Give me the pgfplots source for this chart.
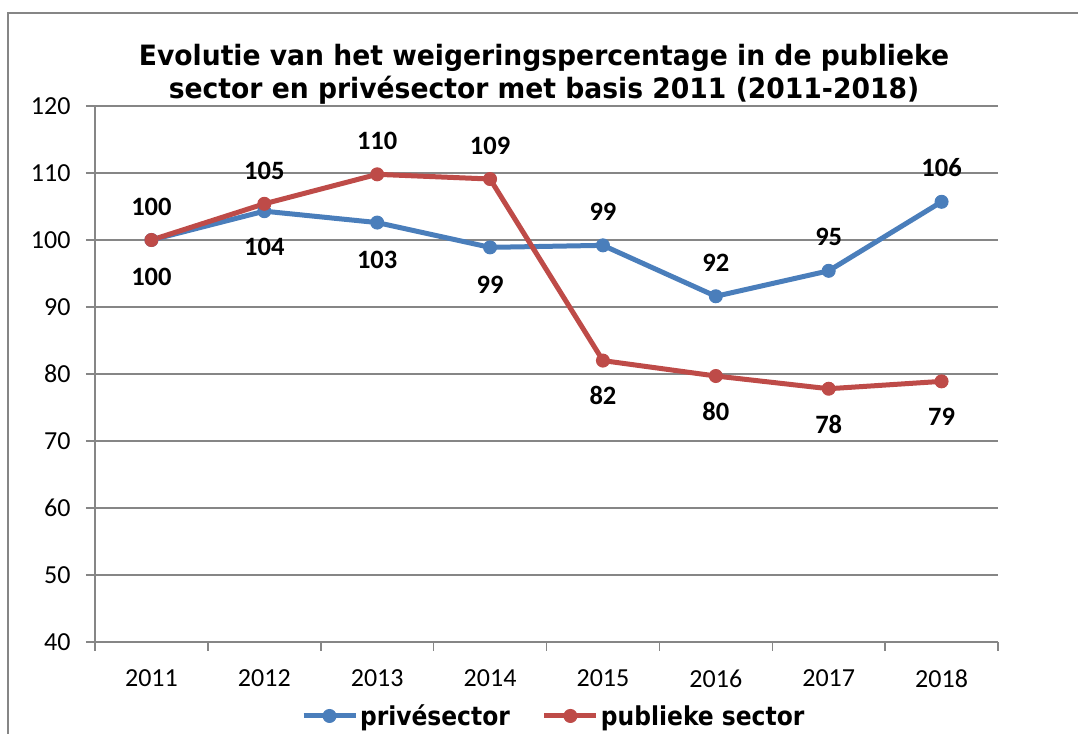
\documentclass[border=0pt]{standalone}
\usepackage{pgfplots}
\usepackage{pgfplotstable}
\pgfplotsset{compat=1.18}
\usepackage{fontspec}
\setmainfont{Carlito}
\newfontfamily\titlefont[FakeStretch=0.95]{DejaVu Sans}
\newfontfamily\legfont[FakeStretch=0.9]{DejaVu Sans}
\definecolor{blueS}{RGB}{74,126,187}
\definecolor{redS}{RGB}{190,75,72}
\definecolor{gridg}{RGB}{134,134,134}

\pgfplotstableread{
x y pos
0 100 -37
1 104.3 -36
2 102.6 -37
3 98.9 -37
4 99.2 34
5 91.6 33
6 95.4 34
7 105.7 34
}\prive

\pgfplotstableread{
x y pos
0 100 33
1 105.4 33
2 109.8 33
3 109.1 33
4 82.0 -35
5 79.7 -35
6 77.8 -36
7 78.9 -35
}\publiek

\begin{document}
\begin{tikzpicture}[x=1pt,y=1pt]
\path[use as bounding box] (0,0) rectangle (1078,733);
\draw[gridg, line width=1.5pt] (8,-5) -- (8,720) -- (1090,720);
\node[font=\titlefont\bfseries\fontsize{28}{33}\selectfont, align=center] at (544,659)
  {Evolutie van het weigeringspercentage in de publieke\\sector en privésector met basis 2011 (2011-2018)};
\begin{axis}[
  at={(95pt,91pt)}, anchor=south west, scale only axis,
  width=903pt, height=536pt,
  xmin=-0.5, xmax=7.5, ymin=40, ymax=120,
  ytick={40,50,...,120},
  xtick={-0.5,0.5,...,7.5}, xticklabels={},
  extra x ticks={0,1,2,3,4,5,6,7},
  extra x tick labels={2011,2012,2013,2014,2015,2016,2017,2018},
  extra x tick style={major tick length=0pt, grid=none},
  axis x line*=bottom, axis y line*=left,
  axis line style={gridg, line width=1.5pt, -},
  ymajorgrids, grid style={gridg, line width=1.5pt},
  tick style={gridg, line width=1.5pt},
  major tick length=9pt, tick align=outside,
  /pgf/number format/assume math mode=true,
  ticklabel style={font=\fontsize{26}{30}\selectfont, text=black},
  yticklabel style={xshift=-12pt},
  xticklabel style={yshift=-24pt},
  clip=false,
  legend style={at={(0.508,-0.138)}, anchor=center, draw=none, fill=none,
    font=\legfont\bfseries\fontsize{26}{30}\selectfont,
    /tikz/every even column/.append style={column sep=30pt},
    inner sep=0pt},
  legend columns=2,
  legend image code/.code={\draw[mark repeat=2,mark phase=2,#1] plot coordinates {(0pt,0pt) (26pt,0pt) (52pt,0pt)};},
  nodes near coords={\pgfmathprintnumber[fixed,precision=0,assume math mode=true]{\pgfplotspointmeta}},
  point meta=y,
]
\addplot[blueS, line width=5pt, mark=*, mark size=6.5pt, mark options={solid, line width=1pt, fill=blueS},
  visualization depends on={\thisrow{pos}\as\lp},
  nodes near coords style={anchor=center, yshift=\lp pt, font=\bfseries\fontsize{26.5}{30}\selectfont, text=black}]
  table[x=x,y=y]{\prive};
\addlegendentry{privésector}
\addplot[redS, line width=5pt, mark=*, mark size=6.5pt, mark options={solid, line width=1pt, fill=redS},
  visualization depends on={\thisrow{pos}\as\lp},
  nodes near coords style={anchor=center, yshift=\lp pt, font=\bfseries\fontsize{26.5}{30}\selectfont, text=black}]
  table[x=x,y=y]{\publiek};
\addlegendentry{publieke sector}
\end{axis}
\end{tikzpicture}
\end{document}
